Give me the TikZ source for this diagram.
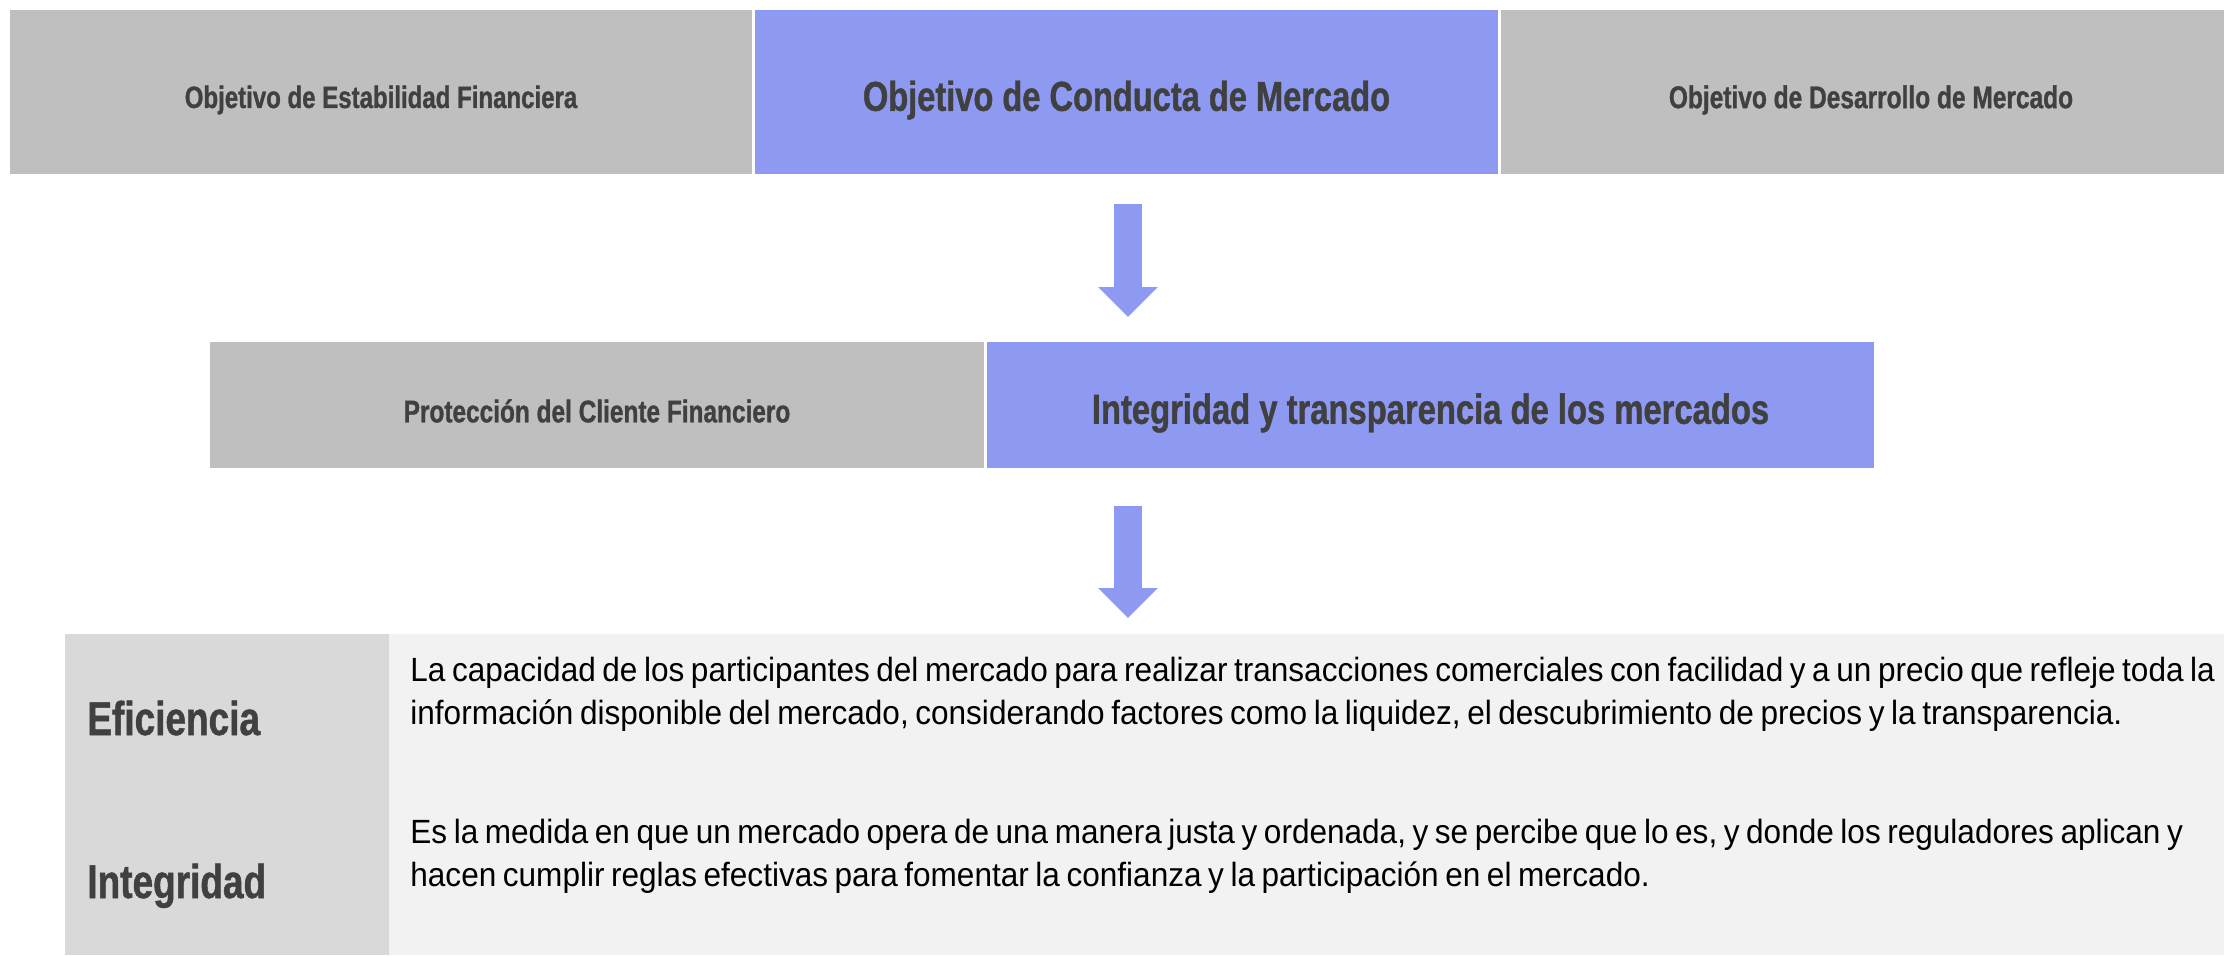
\documentclass[tikz,border=0pt]{standalone}
\usepackage{fontspec}
\setmainfont[FakeStretch=0.939,WordSpace=0.75]{Liberation Sans}
\newfontfamily\hdfont[FakeStretch=0.78,FakeBold=1]{Liberation Sans}
\usetikzlibrary{arrows.meta}
\definecolor{gboxc}{HTML}{BFBFBF}
\definecolor{bboxc}{HTML}{8E9AF2}
\definecolor{txtc}{HTML}{404040}
\definecolor{tleftc}{HTML}{D9D9D9}
\definecolor{trightc}{HTML}{F2F2F2}
\begin{document}
\begin{tikzpicture}[x=0.5pt,y=-0.5pt,
  hbox/.style={rectangle, inner sep=0pt, outer sep=0pt},
  graybox/.style={hbox, fill=gboxc},
  bluebox/.style={hbox, fill=bboxc},
  hlabel/.style={inner sep=0pt, text=txtc, align=center},
  cell/.style={rectangle, inner sep=0pt, outer sep=0pt},
  term/.style={inner sep=0pt, anchor=base west, text=txtc, font=\hdfont\bfseries\fontsize{23.7}{28}\selectfont},
  desc/.style={inner sep=0pt, anchor=base west, text width=950pt, align=flush left, text=black, font=\fontsize{16.8}{21.5}\selectfont},
  blockarrow/.style={draw=bboxc, line width=14pt, -{Triangle[width=29pt,length=15pt]}}
]
\useasboundingbox (0,0) rectangle (2224,955);
% top row
\node[graybox, minimum width=371pt, minimum height=82pt] (estab) at (381,92) {};
\node[bluebox, minimum width=371.5pt, minimum height=82pt] (conducta) at (1126.5,92) {};
\node[graybox, minimum width=361.5pt, minimum height=82pt] (desarrollo) at (1862.5,92) {};
\node[hlabel, font=\hdfont\bfseries\fontsize{15.4}{18}\selectfont] (estabt) at (381,100) {Objetivo de Estabilidad Financiera};
\node[hlabel, font=\hdfont\bfseries\fontsize{20.9}{24}\selectfont] (conductat) at (1126.5,100) {Objetivo de Conducta de Mercado};
\node[hlabel, font=\hdfont\bfseries\fontsize{15.7}{18}\selectfont] (desarrollot) at (1871,100) {Objetivo de Desarrollo de Mercado};
% second row
\node[graybox, minimum width=387pt, minimum height=63pt] (proteccion) at (597,405) {};
\node[bluebox, minimum width=443.5pt, minimum height=63pt] (integ) at (1430.5,405) {};
\node[hlabel, font=\hdfont\bfseries\fontsize{15.65}{19}\selectfont] (protecciont) at (597,411) {Protección del Cliente Financiero};
\node[hlabel, font=\hdfont\bfseries\fontsize{21}{25}\selectfont] (integt) at (1430.5,413) {Integridad y transparencia de los mercados};
% table
\node[cell, fill=tleftc, minimum width=162pt, minimum height=160.5pt] (tleft) at (227,794.5) {};
\node[cell, fill=trightc, minimum width=917.5pt, minimum height=160.5pt] (tright) at (1306.5,794.5) {};
\node[term] (efic) at (87,735) {Eficiencia};
\node[term] (integr) at (87,898) {Integridad};
\node[desc] (deficiencia) at (410,681) {La capacidad de los participantes del mercado para realizar transacciones comerciales con facilidad y a un precio que refleje toda la\\información disponible del mercado, considerando factores como la liquidez, el descubrimiento de precios y la transparencia.};
\node[desc] (dintegridad) at (410,843) {Es la medida en que un mercado opera de una manera justa y ordenada, y se percibe que lo es, y donde los reguladores aplican y\\hacen cumplir reglas efectivas para fomentar la confianza y la participación en el mercado.};
% arrows
\coordinate (a1s) at (1128,204);
\coordinate (a1e) at (1128,317);
\coordinate (a2s) at (1128,506);
\coordinate (a2e) at (1128,618);
\draw[blockarrow] (a1s) -- (a1e);
\draw[blockarrow] (a2s) -- (a2e);
\end{tikzpicture}
\end{document}
